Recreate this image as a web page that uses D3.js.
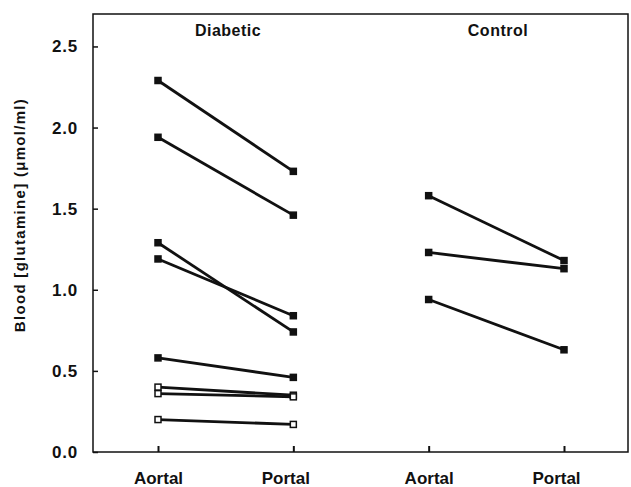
<!DOCTYPE html>
<html>
<head>
<meta charset="utf-8">
<script src="https://cdn.jsdelivr.net/npm/d3@7"></script>
<style>
  body { margin: 0; background: #fff; }
  text { font-family: "Liberation Sans", Arial, sans-serif; font-weight: bold; fill: #111; }
</style>
</head>
<body>
<div id="graph"></div>
<script>
"use strict";

// site labels along x (two per group)
const sites = ["D-Aortal", "D-Portal", "C-Aortal", "C-Portal"];
const siteLabels = ["Aortal", "Portal", "Aortal", "Portal"];
const groups = ["Diabetic", "Control"];
const yTicks = [0, 0.5, 1.0, 1.5, 2.0, 2.5];

// diabetic animals: aortal -> portal (open = open squares)
const diabeticAortal = [2.29, 1.94, 1.29, 1.19, 0.58, 0.40, 0.36, 0.20];
const diabeticPortal = [1.73, 1.46, 0.74, 0.84, 0.46, 0.35, 0.34, 0.17];
const diabeticOpen   = [false, false, false, false, false, true, true, true];

// control animals
const controlAortal = [1.58, 1.23, 0.94];
const controlPortal = [1.18, 1.13, 0.63];

const svgWidth = 631;
const svgHeight = 487;
const margin = { top: 14, right: 3, bottom: 35, left: 93 };
const width = svgWidth - margin.left - margin.right;
const height = svgHeight - margin.top - margin.bottom;

const svg = d3.select("#graph")
    .append("svg")
    .attr("width", svgWidth)
    .attr("height", svgHeight)
    .append("g")
    .attr("transform", "translate(" + margin.left + "," + margin.top + ")");

const xScale = d3.scalePoint()
    .domain(sites)
    .range([65, 471]);

const yScale = d3.scaleLinear()
    .domain([0, 2.7])
    .range([height, 0]);

// frame
svg.append("rect")
    .attr("x", 0)
    .attr("y", 0)
    .attr("width", width)
    .attr("height", height)
    .attr("fill", "none")
    .attr("stroke", "#111")
    .attr("stroke-width", 1.5);

// y axis, ticks pointing inward
const yAxis = svg.append("g")
    .call(d3.axisLeft(yScale).tickValues(yTicks).tickSize(-5).tickPadding(15).tickFormat(d3.format(".1f")));
yAxis.select(".domain").remove();
yAxis.selectAll("line").attr("stroke", "#111").attr("stroke-width", 1.5);
yAxis.selectAll("text")
    .style("font-size", "17px")
    .style("letter-spacing", "0.8px")
    .attr("fill", "#111");

// x axis, ticks pointing inward
const xAxis = svg.append("g")
    .attr("transform", "translate(0," + height + ")")
    .call(d3.axisBottom(xScale).tickSize(-6).tickPadding(20).tickFormat((d, i) => siteLabels[i]));
xAxis.select(".domain").remove();
xAxis.selectAll("line").attr("stroke", "#111").attr("stroke-width", 2);
xAxis.selectAll("text")
    .style("font-size", "17px")
    .attr("fill", "#111")
    .attr("dx", (d, i) => i % 2 ? -8 : 0);

// y axis title
svg.append("text")
    .attr("transform", "translate(" + (25 - margin.left) + "," + (215 - margin.top) + ") rotate(-90)")
    .attr("text-anchor", "middle")
    .style("font-size", "15px")
    .style("letter-spacing", "1.3px")
    .text("Blood [glutamine] (\u03bcmol/ml)");

// group titles
svg.selectAll(".group")
    .data(groups)
    .enter().append("text")
    .attr("class", "group")
    .attr("x", (d, i) => i === 0 ? 135 : 405)
    .attr("y", 22)
    .attr("text-anchor", "middle")
    .style("font-size", "16px")
    .style("letter-spacing", "0.5px")
    .text(d => d);

const pairs = [];
diabeticAortal.forEach((v, i) => pairs.push({ a: "D-Aortal", p: "D-Portal", va: v, vp: diabeticPortal[i], open: diabeticOpen[i] }));
controlAortal.forEach((v, i) => pairs.push({ a: "C-Aortal", p: "C-Portal", va: v, vp: controlPortal[i], open: false }));

svg.selectAll(".pair")
    .data(pairs)
    .enter().append("line")
    .attr("class", "pair")
    .attr("x1", d => xScale(d.a))
    .attr("y1", d => yScale(d.va))
    .attr("x2", d => xScale(d.p))
    .attr("y2", d => yScale(d.vp))
    .attr("stroke", "#111")
    .attr("stroke-width", 2.8);

const points = [];
pairs.forEach(d => {
    points.push({ site: d.a, v: d.va, open: d.open });
    points.push({ site: d.p, v: d.vp, open: d.open });
});

const s = 6;
svg.selectAll(".pt")
    .data(points)
    .enter().append("rect")
    .attr("class", "pt")
    .attr("x", d => xScale(d.site) - s / 2)
    .attr("y", d => yScale(d.v) - s / 2)
    .attr("width", s)
    .attr("height", s)
    .attr("fill", d => d.open ? "#fff" : "#111")
    .attr("stroke", "#111")
    .attr("stroke-width", 1.5);
</script>
</body>
</html>
